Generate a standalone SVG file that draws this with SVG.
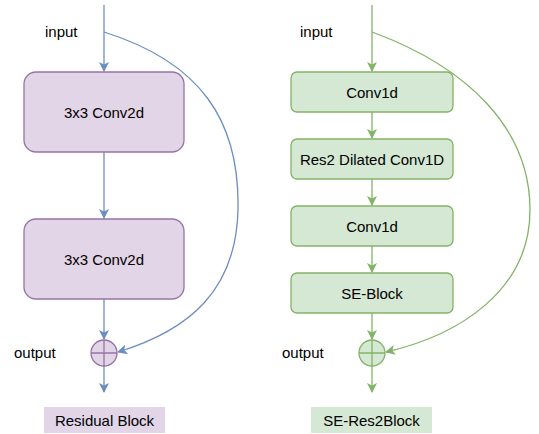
<svg xmlns="http://www.w3.org/2000/svg" width="539" height="434" viewBox="0 0 539 434">
<style>
text{font-family:"Liberation Sans",Arial,sans-serif;font-size:15px;fill:#000}
.c{text-anchor:middle}
.p{fill:#e1d5e7;stroke:#9673a6;stroke-width:1.3}
.g{fill:#d5e8d4;stroke:#82b366;stroke-width:1.3}
.bl{fill:none;stroke:#6c8ebf;stroke-width:1.3}
.gl{fill:none;stroke:#82b366;stroke-width:1.3}
</style>
<defs>
<marker id="ab" viewBox="0 0 10 10" refX="9" refY="5" markerWidth="10" markerHeight="10" markerUnits="userSpaceOnUse" orient="auto"><path d="M0,0 L10,5 L0,10 L2.5,5 Z" fill="#6c8ebf"/></marker>
<marker id="ag" viewBox="0 0 10 10" refX="9" refY="5" markerWidth="10" markerHeight="10" markerUnits="userSpaceOnUse" orient="auto"><path d="M0,0 L10,5 L0,10 L2.5,5 Z" fill="#82b366"/></marker>
</defs>
<g id="connectors">
<path class="bl" d="M104,5 V71" marker-end="url(#ab)"/>
<path class="bl" d="M104,152 V218" marker-end="url(#ab)"/>
<path class="bl" d="M104,299 V339" marker-end="url(#ab)"/>
<path class="bl" d="M104,366 V392" marker-end="url(#ab)"/>
<path class="bl" d="M104,32 C200,62 240,120 238,210 C236,290 190,330 118,352" marker-end="url(#ab)"/>
<path class="gl" d="M372,5 V71" marker-end="url(#ag)"/>
<path class="gl" d="M372,112 V138" marker-end="url(#ag)"/>
<path class="gl" d="M372,179 V205" marker-end="url(#ag)"/>
<path class="gl" d="M372,246 V272" marker-end="url(#ag)"/>
<path class="gl" d="M372,313 V339" marker-end="url(#ag)"/>
<path class="gl" d="M372,366 V392" marker-end="url(#ag)"/>
<path class="gl" d="M372,32 C470,68 530,130 530,210 C530,290 460,335 386,352" marker-end="url(#ag)"/>
</g>
<g id="label-input-l"><text x="45" y="37">input</text></g>
<g id="conv2d-1"><rect class="p" x="24" y="72" width="160" height="80" rx="12"/><text class="c" x="104" y="117.5">3x3 Conv2d</text></g>
<g id="conv2d-2"><rect class="p" x="24" y="219" width="160" height="80" rx="12"/><text class="c" x="104" y="264.5">3x3 Conv2d</text></g>
<g id="sum-l"><circle class="p" cx="104" cy="353" r="13"/><path d="M91,353 H117 M104,340 V366" stroke="#9673a6" stroke-width="1.3"/></g>
<g id="label-output-l"><text x="14" y="358">output</text></g>
<g id="title-l"><rect x="44" y="407" width="121" height="26" fill="#e1d5e7"/><text class="c" x="104.5" y="426">Residual Block</text></g>
<g id="label-input-r"><text x="300" y="37">input</text></g>
<g id="conv1d-1"><rect class="g" x="291" y="72" width="162" height="40" rx="6"/><text class="c" x="372" y="97.5">Conv1d</text></g>
<g id="res2"><rect class="g" x="291" y="139" width="162" height="40" rx="6"/><text class="c" x="372" y="164.5">Res2 Dilated Conv1D</text></g>
<g id="conv1d-2"><rect class="g" x="291" y="206" width="162" height="40" rx="6"/><text class="c" x="372" y="231.5">Conv1d</text></g>
<g id="se-block"><rect class="g" x="291" y="273" width="162" height="40" rx="6"/><text class="c" x="372" y="298.5">SE-Block</text></g>
<g id="sum-r"><circle class="g" cx="372" cy="353" r="13"/><path d="M359,353 H385 M372,340 V366" stroke="#82b366" stroke-width="1.3"/></g>
<g id="label-output-r"><text x="282" y="358">output</text></g>
<g id="title-r"><rect x="311" y="407" width="121" height="26" fill="#d5e8d4"/><text class="c" x="371.5" y="426">SE-Res2Block</text></g>
</svg>
